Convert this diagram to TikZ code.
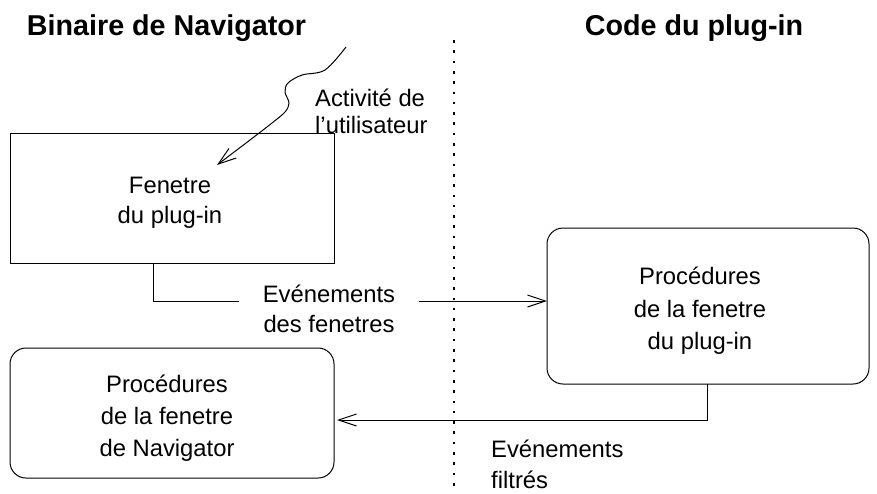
\documentclass[tikz,border=0pt]{standalone}
\usepackage{fontspec}
\setmainfont{Liberation Sans}
\usetikzlibrary{arrows.meta}
\begin{document}
\begin{tikzpicture}[x=1pt,y=-1pt,
  lbl/.style={font=\fontsize{23.8}{30}\selectfont, inner sep=0pt},
  ttl/.style={font=\fontsize{28.7}{30}\selectfont\bfseries, inner sep=0pt, anchor=base},
  box/.style={draw, line width=1pt},
  rbox/.style={draw, line width=1pt, rounded corners=16pt},
  con/.style={line width=1pt, -{Straight Barb[length=18pt,width=12pt,line width=1pt]}},
  sep/.style={line width=2.6pt, dash pattern=on 2.6pt off 7.7pt}]
\useasboundingbox (0,0) rectangle (877,493);
% titles
\node[ttl] (t1) at (166.5,35) {Binaire de Navigator};
\node[ttl] (t2) at (694,35) {Code du plug-in};
% separator
\coordinate (s1) at (454,40);
\coordinate (s2) at (454,486);
\draw[sep] (s1) -- (s2);
% boxes
\draw[box] (10,133) rectangle (334,263);
\node[lbl, align=center, font=\fontsize{23.8}{30}\selectfont] (fen) at (170,203) {Fenetre\\du plug-in};
\draw[rbox] (547,228) rectangle (869,384);
\node[lbl, align=center, font=\fontsize{23.8}{32.3}\selectfont] (pp) at (700,311) {Procédures\\de la fenetre\\du plug-in};
\draw[rbox] (10,348) rectangle (334,478);
\node[lbl, align=center, font=\fontsize{23.8}{32.3}\selectfont] (pn) at (167,418) {Procédures\\de la fenetre\\de Navigator};
% user activity
\coordinate (u0) at (346,47);
\coordinate (u1) at (217,165);
\draw[con] plot[smooth, tension=0.55] coordinates {(u0) (325,70) (302,75) (288,83) (285,92) (289,103) (285,112) (272,123) (250,140) (u1)};
\node[lbl, align=left, anchor=west, font=\fontsize{23.8}{27}\selectfont] (act) at (315,111) {Activité de\\l’utilisateur};
% window events
\coordinate (e0) at (153,263);
\coordinate (e1) at (547,301);
\draw[con] (e0) |- (e1);
\node[lbl, align=center, fill=white, minimum width=180pt, font=\fontsize{23.8}{30}\selectfont] (ev1) at (329,309) {Evénements\\des fenetres};
% filtered events
\coordinate (f0) at (707,384);
\coordinate (f1) at (337,420);
\draw[con] (f0) |- (f1);
\node[lbl, align=left, anchor=west, font=\fontsize{23.8}{31}\selectfont] (ev2) at (491,464) {Evénements\\filtrés};
\end{tikzpicture}
\end{document}
